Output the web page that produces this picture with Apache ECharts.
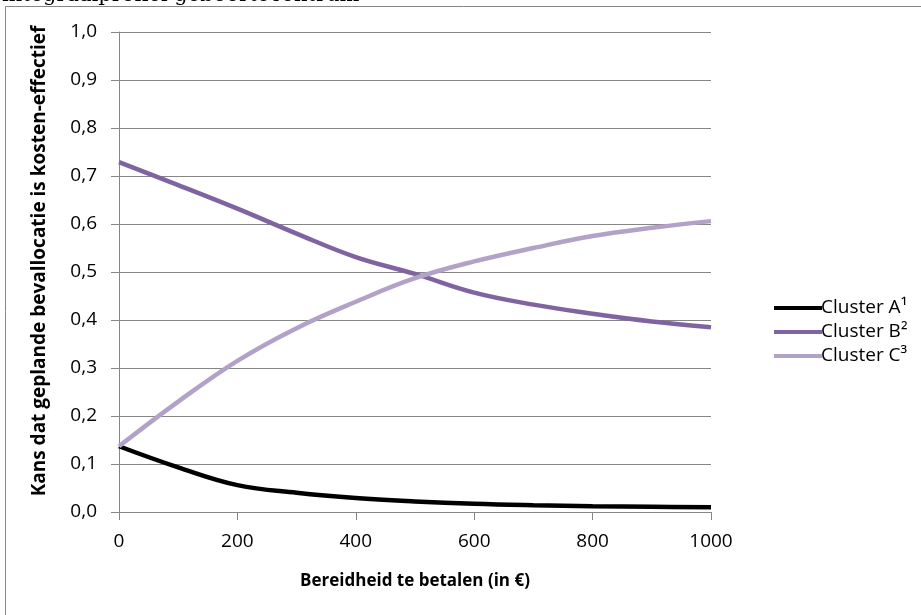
<!DOCTYPE html>
<html lang="nl">
<head>
<meta charset="UTF-8">
<title>Kans kosten-effectief</title>
<style>
  html, body { margin: 0; padding: 0; background: #fff; }
  #main { width: 921px; height: 615px; }
</style>
</head>
<body>
<div id="main"></div>
<script src="https://cdn.jsdelivr.net/npm/echarts@6/dist/echarts.min.js"></script>
<script>
// bereidheid te betalen (euro)
var wtp = [0, 100, 200, 300, 400, 500, 600, 700, 800, 900, 1000];
var clusterA = [0.137, 0.093, 0.056, 0.040, 0.029, 0.022, 0.017, 0.014, 0.012, 0.011, 0.010];
var clusterB = [0.729, 0.681, 0.632, 0.580, 0.531, 0.496, 0.457, 0.432, 0.413, 0.397, 0.385];
var clusterC = [0.137, 0.230, 0.315, 0.383, 0.438, 0.487, 0.522, 0.550, 0.575, 0.592, 0.606];
var names = ['Cluster A\u00b9', 'Cluster B\u00b2', 'Cluster C\u00b3'];
var colors = ['#000000', '#8064A2', '#B3A2C7'];

function pairs(vals) {
  return wtp.map(function (x, i) { return [x, vals[i]]; });
}

var font = '"Open Sans", "Noto Sans", sans-serif';
var gray = '#868686';

var myChart = echarts.init(document.getElementById('main'));
var option = {
  animation: false,
  textStyle: { fontFamily: font },
  graphic: [
    {
      type: 'rect',
      shape: { x: 5.5, y: 6.5, width: 1000, height: 1000 },
      style: { fill: 'none', stroke: gray, lineWidth: 1 }
    },
    {
      type: 'text',
      left: 2, top: -15,
      style: { text: 'integraalprofiel geboortecentrum', font: '21px "DejaVu Serif", "Liberation Serif", serif', fill: '#000' }
    }
  ],
  grid: { left: 119, right: 210, top: 32, bottom: 103 },
  legend: {
    orient: 'vertical',
    left: 769, top: 293,
    icon: 'rect',
    itemWidth: 48, itemHeight: 4,
    itemGap: 4,
    data: names,
    textStyle: { fontFamily: font, fontSize: 19, color: '#000', padding: [0, 0, 0, -6], lineHeight: 20 }
  },
  xAxis: {
    type: 'value',
    min: 0, max: 1000, interval: 200,
    name: 'Bereidheid te betalen (in \u20ac)',
    nameLocation: 'middle',
    nameGap: 61,
    nameTextStyle: { fontFamily: font, fontSize: 17, fontWeight: 'bold', color: '#000' },
    axisLine: { show: true, lineStyle: { color: gray, width: 1 } },
    axisTick: { show: true, length: 8, inside: false, lineStyle: { color: gray } },
    axisLabel: {
      fontFamily: font, fontSize: 19, color: '#000', margin: 20,
      formatter: function (v) { return String(v); }
    },
    splitLine: { show: false }
  },
  yAxis: {
    type: 'value',
    min: 0, max: 1, interval: 0.1,
    name: 'Kans dat geplande bevallocatie is kosten-effectief',
    nameLocation: 'middle',
    nameGap: 70,
    nameTextStyle: { fontFamily: font, fontSize: 19, fontWeight: 'bold', color: '#000', padding: [0, 0, 0, 22] },
    axisLine: { show: true, lineStyle: { color: gray, width: 1 } },
    axisTick: { show: true, length: 8, inside: false, lineStyle: { color: gray } },
    axisLabel: {
      fontFamily: font, fontSize: 19, color: '#000', margin: 22,
      formatter: function (v) { return v.toFixed(1).replace('.', ','); }
    },
    splitLine: { show: true, lineStyle: { color: gray, width: 1 } }
  },
  series: [clusterA, clusterB, clusterC].map(function (vals, i) {
    return {
      name: names[i],
      type: 'line',
      data: pairs(vals),
      smooth: 0.4,
      showSymbol: false,
      symbol: 'none',
      color: colors[i],
      lineStyle: { color: colors[i], width: 4.5 }
    };
  })
};
myChart.setOption(option);
</script>
</body>
</html>
